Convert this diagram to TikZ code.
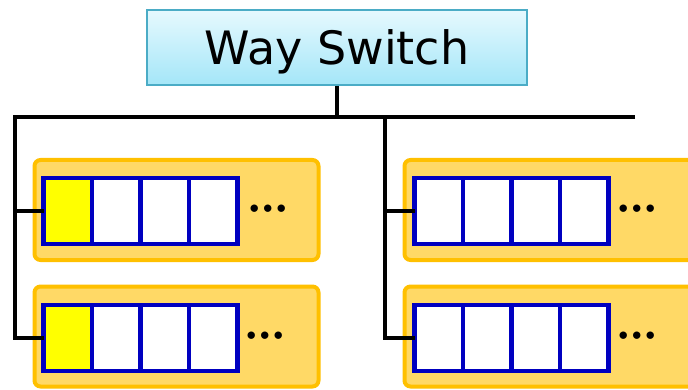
\documentclass[tikz,border=0pt]{standalone}
\usepackage{fontspec}
\setmainfont{DejaVu Sans}
\usetikzlibrary{positioning}

\definecolor{titleedge}{HTML}{4BACC6}
\definecolor{titletop}{HTML}{E6F9FE}
\definecolor{titlebot}{HTML}{A4E6F8}
\definecolor{bankedge}{HTML}{FFC000}
\definecolor{bankfill}{HTML}{FFD966}
\definecolor{cellblue}{HTML}{0000C0}
\definecolor{cellyellow}{HTML}{FFFF00}

\tikzset{
  titlebox/.style={draw=titleedge,line width=2pt,top color=titletop,bottom color=titlebot,
    minimum width=380pt,minimum height=75pt,inner sep=0pt,text depth=0pt,
    font=\fontsize{46}{52}\selectfont},
  bank/.style={draw=bankedge,fill=bankfill,line width=4pt,rounded corners=6pt,
    minimum height=100pt,inner sep=0pt},
  cell/.style={draw=cellblue,fill=white,line width=4.5pt,minimum width=48.5pt,
    minimum height=66pt,inner sep=0pt,outer sep=0pt},
  firstcell/.style={cell,fill=cellyellow},
  more/.style={inner sep=0pt,font=\fontsize{21}{21}\selectfont\bfseries},
  wire/.style={line width=3.5pt}
}

\begin{document}
\begin{tikzpicture}[x=1pt,y=-1pt]
  \clip (0,0) rectangle (688,390);
  \fill[white] (0,0) rectangle (688,390);

  \node[titlebox] (title) at (337,47.5) {Way Switch};

  % the four banks, two ways on each side
  \node[bank,minimum width=284pt] (bankL1) at (176.5,210) {};
  \node[bank,minimum width=284pt] (bankL2) at (176.5,336.5) {};
  \node[bank,minimum width=320pt] (bankR1) at (564.5,210) {};
  \node[bank,minimum width=320pt] (bankR2) at (564.5,336.5) {};

  % rows of cells
  \node[firstcell] (L1c1) at (67.75,211) {};
  \node[firstcell] (L2c1) at (67.75,338) {};
  \node[cell] (R1c1) at (438.75,211) {};
  \node[cell] (R2c1) at (438.75,338) {};
  \foreach \row in {L1,L2,R1,R2} {
    \node[cell,right=0pt of \row c1] (\row c2) {};
    \node[cell,right=0pt of \row c2] (\row c3) {};
    \node[cell,right=0pt of \row c3] (\row c4) {};
  }
  \node[more,right=10pt of L1c4] (dotsL1) {•••};
  \node[more,right=7pt of L2c4] (dotsL2) {•••};
  \node[more,right=8pt of R1c4] (dotsR1) {•••};
  \node[more,right=8pt of R2c4] (dotsR2) {•••};

  % switch wiring
  \coordinate (busL) at (15,117);
  \coordinate (busM) at (385,117);
  \coordinate (busR) at (635,117);
  \draw[wire] (title.south) -- (title.south |- busL);
  \draw[wire] (busR) -- (busL) |- (L2c1.west);
  \draw[wire] (busL |- L1c1.west) -- (L1c1.west);
  \draw[wire] (busM) |- (R2c1.west);
  \draw[wire] (busM |- R1c1.west) -- (R1c1.west);
\end{tikzpicture}
\end{document}
